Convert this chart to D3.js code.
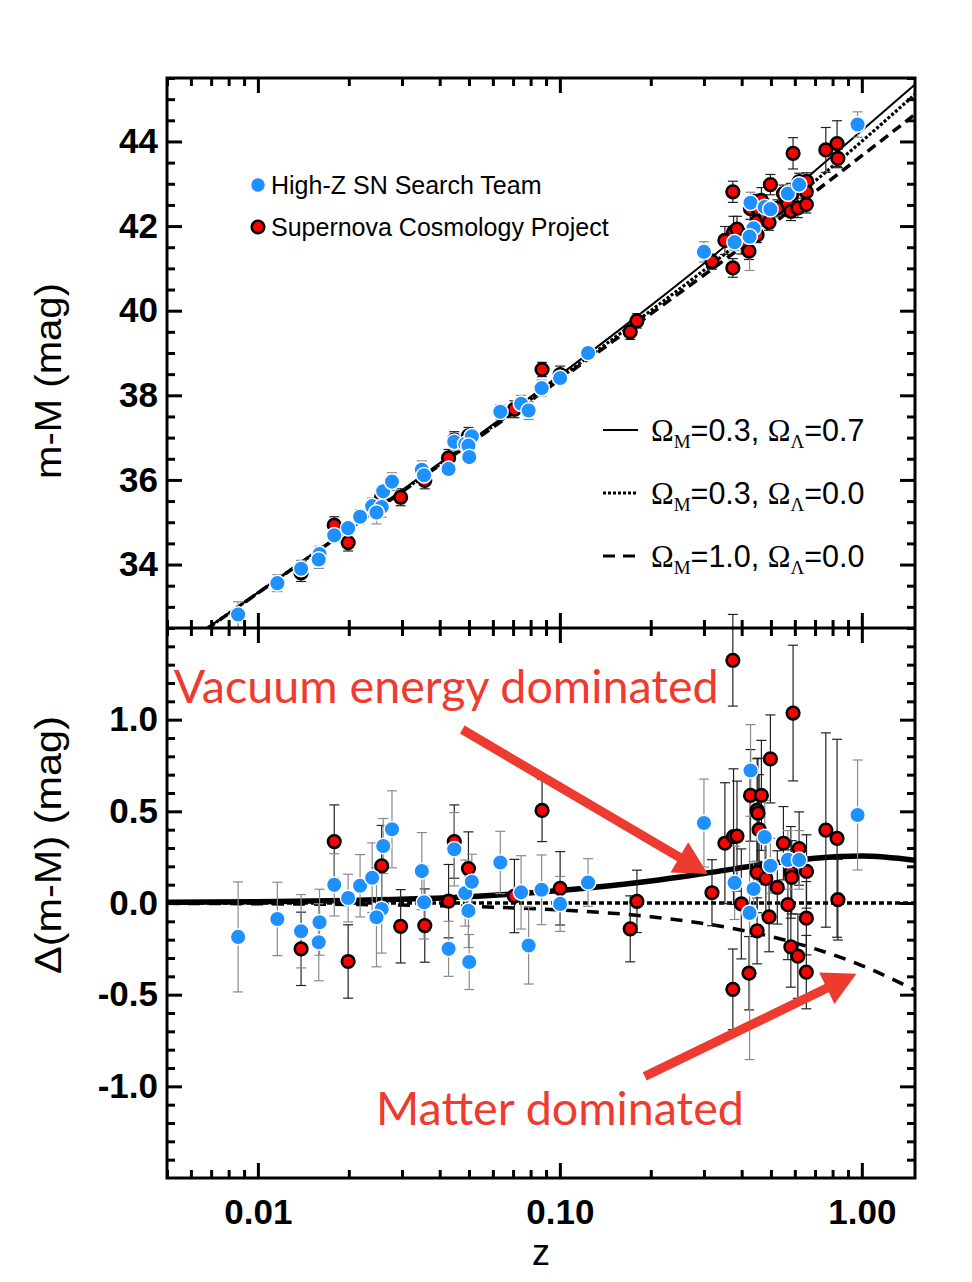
<!DOCTYPE html>
<html>
<head>
<meta charset="utf-8">
<script src="https://cdn.jsdelivr.net/npm/d3@7"></script>
<style>
  body { margin: 0; background: #fff; }
  text { font-family: "Liberation Sans", Arial, sans-serif; }
</style>
</head>
<body>
<svg id="chart" width="972" height="1282"></svg>
<script>
// High-Z SN Search Team : redshift, distance modulus, residual vs (0.3, 0.0), error
var highzZ   = [0.0086, 0.0116, 0.0139, 0.0160, 0.0159, 0.0179, 0.0199, 0.0218, 0.0239, 0.0260,
                0.0278, 0.0257, 0.0247, 0.0349, 0.0355, 0.0447, 0.0428, 0.0486, 0.0511, 0.0498,
                0.0501, 0.0635, 0.0744, 0.0788, 0.0870, 0.1002, 0.124, 0.300, 0.428, 0.477,
                0.498, 0.569, 0.620, 0.379, 0.438, 0.425, 0.968];
var highzMu  = [32.82, 33.56, 33.90, 34.25, 34.12, 34.69, 34.86, 35.13, 35.38, 35.73,
                35.96, 35.36, 35.23, 36.24, 36.11, 36.90, 36.26, 36.85, 37.03, 36.81,
                36.54, 37.61, 37.80, 37.64, 38.17, 38.41, 39.00, 41.39, 42.55, 42.45,
                42.40, 42.77, 42.98, 41.62, 41.95, 41.75, 44.40];
var highzDmu = [-0.185, -0.087, -0.154, -0.105, -0.214, 0.099, 0.027, 0.094, 0.138, 0.311,
                0.402, -0.033, -0.078, 0.174, 0.004, 0.293, -0.250, 0.054, 0.116, -0.043,
                -0.322, 0.221, 0.058, -0.232, 0.072, -0.005, 0.112, 0.436, 0.723, 0.360,
                0.203, 0.235, 0.235, 0.110, 0.076, -0.054, 0.480];
var highzErr = [0.30, 0.20, 0.20, 0.18, 0.21, 0.17, 0.13, 0.17, 0.19, 0.15,
                0.21, 0.24, 0.27, 0.21, 0.20, 0.20, 0.15, 0.18, 0.15, 0.20,
                0.15, 0.17, 0.20, 0.21, 0.19, 0.15, 0.13, 0.24, 0.25, 0.20,
                0.15, 0.16, 0.16, 0.20, 0.15, 0.80, 0.30];

// Supernova Cosmology Project
var scpZ   = [0.0139, 0.0179, 0.0199, 0.0257, 0.0297, 0.0357, 0.0447, 0.0498, 0.0428, 0.0873,
              0.1002, 0.0707, 0.171, 0.180, 0.319, 0.374, 0.592, 0.498, 0.428, 0.465,
              0.450, 0.453, 0.457, 0.352, 0.376, 0.386, 0.550, 0.620, 0.760, 0.828,
              0.656, 0.582, 0.586, 0.450, 0.481, 0.525, 0.399, 0.569, 0.833, 0.493,
              0.655, 0.450, 0.582, 0.614, 0.423, 0.655, 0.374];
var scpMu  = [33.80, 34.93, 34.52, 35.60, 35.59, 35.99, 36.94, 37.04, 36.52, 38.61,
              38.49, 37.67, 39.50, 39.76, 41.16, 42.81, 43.72, 42.98, 42.41, 42.61,
              42.45, 42.45, 42.38, 41.66, 41.86, 41.93, 42.77, 43.05, 43.80, 43.95,
              43.06, 42.76, 42.75, 42.11, 42.24, 42.42, 41.64, 42.53, 43.60, 42.09,
              42.81, 41.79, 42.35, 42.43, 41.41, 42.51, 41.01];
var scpDmu = [-0.250, 0.335, -0.319, 0.203, -0.127, -0.123, 0.335, 0.188, 0.010, 0.505,
              0.080, 0.038, -0.141, 0.009, 0.056, 1.324, 1.036, 0.786, 0.587, 0.587,
              0.507, 0.490, 0.400, 0.326, 0.362, 0.365, 0.326, 0.297, 0.398, 0.353,
              0.172, 0.167, 0.140, 0.167, 0.134, 0.085, -0.005, -0.009, 0.018, -0.076,
              -0.083, -0.152, -0.239, -0.290, -0.383, -0.377, -0.471];
var scpErr = [0.20, 0.20, 0.20, 0.22, 0.20, 0.20, 0.20, 0.20, 0.20, 0.17,
              0.20, 0.20, 0.18, 0.17, 0.18, 0.25, 0.37, 0.24, 0.25, 0.30,
              0.28, 0.30, 0.30, 0.33, 0.37, 0.30, 0.20, 0.20, 0.53, 0.54,
              0.20, 0.25, 0.20, 0.22, 0.20, 0.20, 0.30, 0.30, 0.22, 0.19,
              0.20, 0.18, 0.22, 0.23, 0.20, 0.20, 0.22];

// model curves
var modelZ    = [0.005, 0.01, 0.02, 0.05, 0.1, 0.2, 0.3, 0.5, 0.7, 1.0, 1.5];
var muOpen    = [31.82, 33.33, 34.84, 36.86, 38.41, 40.00, 40.955, 42.206, 43.064, 44.004, 45.116];
var dmuLambda = [0.004, 0.007, 0.014, 0.034, 0.068, 0.120, 0.161, 0.216, 0.244, 0.256, 0.233];
var dmuMatter = [-0.002, -0.004, -0.008, -0.019, -0.038, -0.075, -0.112, -0.183, -0.250, -0.341, -0.475];

var modelNames = [["0.3", "0.7"], ["0.3", "0.0"], ["1.0", "0.0"]];
var xMajor = [0.01, 0.1, 1];
var topMajor = [34, 36, 38, 40, 42, 44];
var botMajor = [-1.0, -0.5, 0.0, 0.5, 1.0];

var svg = d3.select("#chart");
var L = 167, R = 915, T = 78, M = 628, B = 1178;

var x = d3.scaleLog().domain([0.005, 1.5]).range([L, R]);
var yTop = d3.scaleLinear().domain([32.5, 45.5]).range([M, T]);
var yBot = d3.scaleLinear().domain([-1.5, 1.5]).range([B, M]);

var xMinor = x.ticks().filter(function(d) { return xMajor.indexOf(d) < 0 && d < 1.5; });

var defs = svg.append("defs");
defs.append("clipPath").attr("id", "clipTop").append("rect")
    .attr("x", L).attr("y", T).attr("width", R - L).attr("height", M - T);
defs.append("clipPath").attr("id", "clipBot").append("rect")
    .attr("x", L).attr("y", M).attr("width", R - L).attr("height", B - M);

// styles of the three models, top panel and bottom panel
var topStyles = [
  {w: 2, dash: null},
  {w: 3.2, dash: "3,2"},
  {w: 3.5, dash: "10,6"}
];
var botStyles = [
  {w: 5.5, dash: null},
  {w: 3.5, dash: "5,3"},
  {w: 3.5, dash: "12,9"}
];

function panel(y, clip, values, styles, pointKey) {
  var g = svg.append("g");
  var lineG = g.append("g").attr("clip-path", "url(#" + clip + ")");
  var line = d3.line()
      .x(function(d) { return x(d[0]); })
      .y(function(d) { return y(d[1]); })
      .curve(d3.curveMonotoneX);
  values.forEach(function(vals, i) {
    lineG.append("path")
        .datum(modelZ.map(function(z, k) { return [z, vals[k]]; }))
        .attr("d", line)
        .attr("fill", "none")
        .attr("stroke", "#000")
        .attr("stroke-width", styles[i].w)
        .attr("stroke-dasharray", styles[i].dash);
  });

  var red = scpZ.map(function(z, i) { return {z: z, v: pointKey == "mu" ? scpMu[i] : scpDmu[i], e: scpErr[i]}; });
  var blue = highzZ.map(function(z, i) { return {z: z, v: pointKey == "mu" ? highzMu[i] : highzDmu[i], e: highzErr[i]}; });

  function bars(data, color) {
    var eb = g.append("g").attr("stroke", color).attr("stroke-width", 1.2);
    data.forEach(function(d) {
      var cx = x(d.z), y0 = y(d.v - d.e), y1 = y(d.v + d.e);
      eb.append("line").attr("x1", cx).attr("x2", cx).attr("y1", y0).attr("y2", y1);
      eb.append("line").attr("x1", cx - 5).attr("x2", cx + 5).attr("y1", y0).attr("y2", y0);
      eb.append("line").attr("x1", cx - 5).attr("x2", cx + 5).attr("y1", y1).attr("y2", y1);
    });
  }
  bars(red, "#222");
  bars(blue, "#8a8a8a");

  g.append("g").selectAll("circle").data(red).enter().append("circle")
      .attr("cx", function(d) { return x(d.z); })
      .attr("cy", function(d) { return y(d.v); })
      .attr("r", 6.3)
      .attr("fill", "#f00")
      .attr("stroke", "#000")
      .attr("stroke-width", 2.6);
  g.append("g").selectAll("circle").data(blue).enter().append("circle")
      .attr("cx", function(d) { return x(d.z); })
      .attr("cy", function(d) { return y(d.v); })
      .attr("r", 7.8)
      .attr("fill", "#1e90ff")
      .attr("stroke", "#fff")
      .attr("stroke-width", 1.5);
}

panel(yTop, "clipTop",
  [muOpen.map(function(m, i) { return m + dmuLambda[i]; }), muOpen,
   muOpen.map(function(m, i) { return m + dmuMatter[i]; })],
  topStyles, "mu");
panel(yBot, "clipBot",
  [dmuLambda, muOpen.map(function() { return 0; }), dmuMatter],
  botStyles, "dmu");

// axes, ticks inward on every side
function styleAxis(g) {
  g.select(".domain").remove();
  g.selectAll(".tick line").attr("stroke", "#000").attr("stroke-width", 3);
  g.selectAll("text").attr("fill", "#000")
      .style("font-family", "'Liberation Sans', Arial, sans-serif")
      .style("font-size", "35px").style("font-weight", "bold");
}
function axes(y, top, bottom, major, minor, fmt) {
  svg.append("g").attr("transform", "translate(" + L + ",0)")
      .call(d3.axisLeft(y).tickValues(major).tickSize(-15).tickPadding(9).tickFormat(fmt)).call(styleAxis);
  svg.append("g").attr("transform", "translate(" + L + ",0)")
      .call(d3.axisLeft(y).tickValues(minor).tickSize(-8).tickFormat("")).call(styleAxis);
  svg.append("g").attr("transform", "translate(" + R + ",0)")
      .call(d3.axisRight(y).tickValues(major).tickSize(-15).tickFormat("")).call(styleAxis);
  svg.append("g").attr("transform", "translate(" + R + ",0)")
      .call(d3.axisRight(y).tickValues(minor).tickSize(-8).tickFormat("")).call(styleAxis);
  svg.append("g").attr("transform", "translate(0," + top + ")")
      .call(d3.axisTop(x).tickValues(xMajor).tickSize(-15).tickFormat("")).call(styleAxis);
  svg.append("g").attr("transform", "translate(0," + top + ")")
      .call(d3.axisTop(x).tickValues(xMinor).tickSize(-8).tickFormat("")).call(styleAxis);
  svg.append("g").attr("transform", "translate(0," + bottom + ")")
      .call(d3.axisBottom(x).tickValues(xMajor).tickSize(-15).tickFormat("")).call(styleAxis);
  svg.append("g").attr("transform", "translate(0," + bottom + ")")
      .call(d3.axisBottom(x).tickValues(xMinor).tickSize(-8).tickFormat("")).call(styleAxis);
}
axes(yTop, T, M, topMajor, d3.range(32.5, 45.51, 0.5).filter(function(v) { return topMajor.indexOf(v) < 0; }),
     function(d) { return d3.format("d")(d); });
axes(yBot, M, B, botMajor, d3.range(-15, 16).map(function(v) { return v / 10; })
     .filter(function(v) { return v % 0.5 != 0; }),
     function(d) { return d.toFixed(1); });

// x labels below the bottom panel
svg.append("g").attr("transform", "translate(0," + B + ")")
    .call(d3.axisBottom(x).tickValues(xMajor).tickSize(0).tickPadding(21)
      .tickFormat(function(d) { return d.toFixed(2); }))
    .call(styleAxis);

svg.append("rect").attr("x", L).attr("y", T).attr("width", R - L).attr("height", B - T)
    .attr("fill", "none").attr("stroke", "#000").attr("stroke-width", 3);
svg.append("line").attr("x1", L).attr("x2", R).attr("y1", M).attr("y2", M)
    .attr("stroke", "#000").attr("stroke-width", 3);

// axis titles
svg.append("text").attr("transform", "translate(61,381) rotate(-90)")
    .attr("text-anchor", "middle").style("font-size", "37px")
    .attr("textLength", 196).attr("lengthAdjust", "spacingAndGlyphs").text("m-M (mag)");
svg.append("text").attr("transform", "translate(61,845) rotate(-90)")
    .attr("text-anchor", "middle").style("font-size", "37px")
    .attr("textLength", 258).attr("lengthAdjust", "spacingAndGlyphs").text("\u0394(m-M) (mag)");
svg.append("text").attr("x", 541).attr("y", 1265)
    .attr("text-anchor", "middle").style("font-size", "36px").text("z");

// point legend
var ptLegend = [
  {label: "High-Z SN Search Team", fill: "#1e90ff", stroke: "#fff", r: 7.5, sw: 1.5},
  {label: "Supernova Cosmology Project", fill: "#f00", stroke: "#000", r: 6.3, sw: 2.6}
];
ptLegend.forEach(function(d, i) {
  var cy = 185 + i * 42;
  svg.append("circle").attr("cx", 258).attr("cy", cy).attr("r", d.r)
      .attr("fill", d.fill).attr("stroke", d.stroke).attr("stroke-width", d.sw);
  svg.append("text").attr("x", 271).attr("y", cy + 9).style("font-size", "25px").text(d.label);
});

// model legend
modelNames.forEach(function(n, i) {
  var cy = 430 + i * 63;
  var s = topStyles[i];
  svg.append("line").attr("x1", 603).attr("x2", 638).attr("y1", cy).attr("y2", cy)
      .attr("stroke", "#000").attr("stroke-width", i == 0 ? 2 : 3)
      .attr("stroke-dasharray", i == 2 ? "12,8" : s.dash);
  var t = svg.append("text").attr("x", 651).attr("y", cy + 11).style("font-size", "30.5px")
      .attr("xml:space", "preserve");
  var serif = "'Liberation Serif', 'DejaVu Serif', serif";
  t.append("tspan").style("font-family", serif).text("\u03A9");
  t.append("tspan").style("font-family", serif).style("font-size", "19px").attr("dy", 7).text("M");
  t.append("tspan").attr("dy", -7).text("=" + n[0] + ", ");
  t.append("tspan").style("font-family", serif).text("\u03A9");
  t.append("tspan").style("font-family", serif).style("font-size", "19px").attr("dy", 7).text("\u039B");
  t.append("tspan").attr("dy", -7).text("=" + n[1]);
});

// annotations
var annoColor = "#ee3b2f";
function arrow(z0, v0, z1, v1) {
  var x0 = x(z0), y0 = yBot(v0), x1 = x(z1), y1 = yBot(v1);
  var dx = x1 - x0, dy = y1 - y0, len = Math.sqrt(dx * dx + dy * dy);
  var ux = dx / len, uy = dy / len, nx = -uy, ny = ux;
  var hl = 33, hw = 17.5, sw = 4.6;
  var bx = x1 - ux * hl, by = y1 - uy * hl;
  var pts = [
    [x0 + nx * sw, y0 + ny * sw], [bx + nx * sw, by + ny * sw], [bx + nx * hw, by + ny * hw],
    [x1, y1], [bx - nx * hw, by - ny * hw], [bx - nx * sw, by - ny * sw], [x0 - nx * sw, y0 - ny * sw]
  ];
  svg.append("polygon").attr("points", pts.map(function(p) { return p.join(","); }).join(" "))
      .attr("fill", annoColor);
}
arrow(0.0475, 0.946, 0.309, 0.158);
arrow(0.191, -0.946, 0.960, -0.386);

svg.append("text").attr("x", x(0.00526)).attr("y", yBot(1.092))
    .attr("textLength", 545).attr("lengthAdjust", "spacingAndGlyphs")
    .style("font-family", "Lato, 'Open Sans', sans-serif").style("font-size", "46px")
    .attr("fill", annoColor).text("Vacuum energy dominated");
svg.append("text").attr("x", x(0.0246)).attr("y", yBot(-1.212))
    .attr("textLength", 368).attr("lengthAdjust", "spacingAndGlyphs")
    .style("font-family", "Lato, 'Open Sans', sans-serif").style("font-size", "46px")
    .attr("fill", annoColor).text("Matter dominated");
</script>
</body>
</html>
